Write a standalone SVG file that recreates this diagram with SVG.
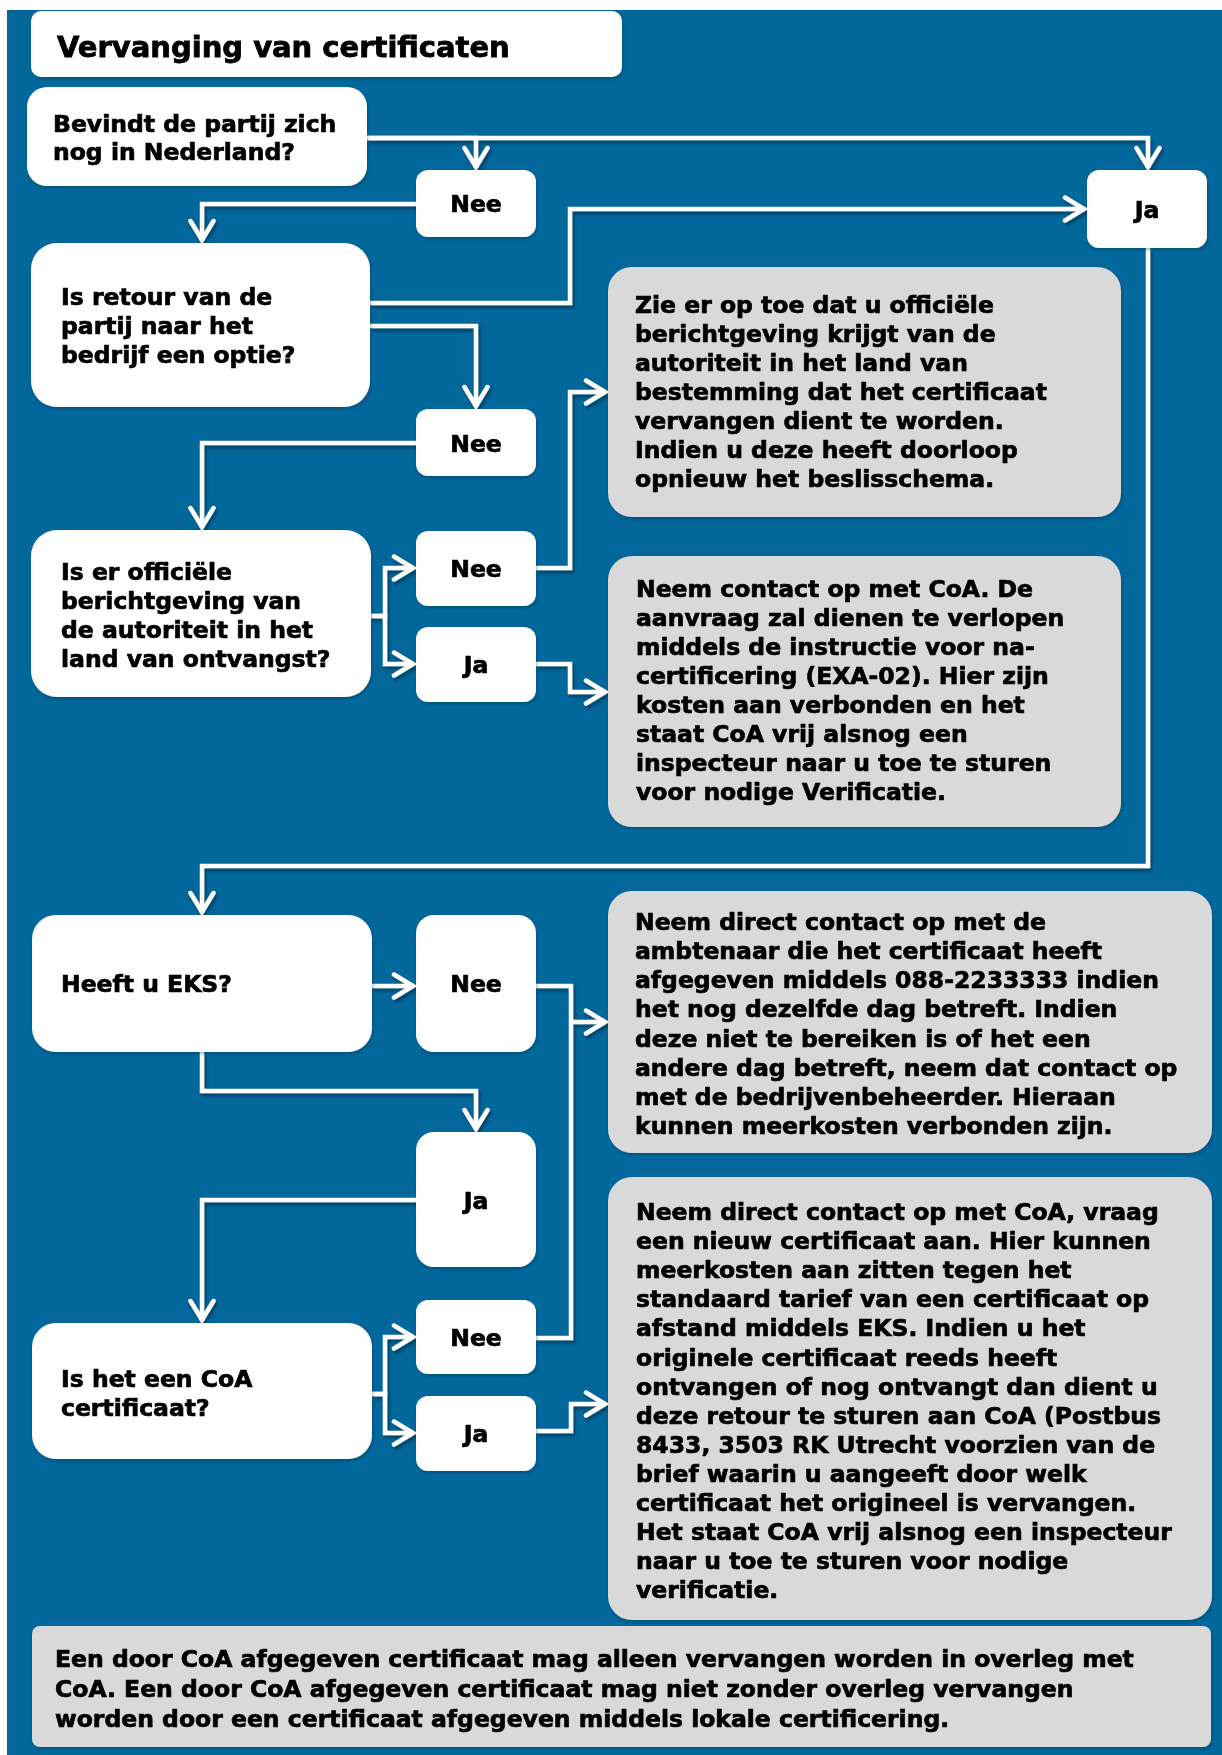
<svg xmlns="http://www.w3.org/2000/svg" width="1222" height="1755" viewBox="0 0 1222 1755">
<defs>
<style>
text{font-family:"DejaVu Sans",Verdana,"Liberation Sans",sans-serif;font-weight:bold;fill:#000;stroke:#000;stroke-width:0.7;font-size:23.5px}
.title{font-size:29px;stroke-width:0.8}
.lbl{text-anchor:middle}
.q{fill:#fff}
.info{fill:#d9d9d9}
.conn path{fill:none;stroke:#fff;stroke-width:4.5;stroke-linejoin:miter}
</style>
<filter id="sh" x="-5%" y="-5%" width="110%" height="110%">
<feDropShadow dx="2" dy="3" stdDeviation="1.5" flood-color="#002a44" flood-opacity="0.55"/>
</filter>
<filter id="bsh" x="-5%" y="-5%" width="110%" height="110%">
<feDropShadow dx="1" dy="2" stdDeviation="1.5" flood-color="#002a44" flood-opacity="0.35"/>
</filter>
<marker id="arr" viewBox="0 0 26 28" refX="23" refY="14" markerWidth="26" markerHeight="28" markerUnits="userSpaceOnUse" orient="auto">
<path d="M3,2.5 L22,14 L3,25.5" fill="none" stroke="#fff" stroke-width="4.5" stroke-linecap="round" stroke-linejoin="miter"/>
</marker>
</defs>
<rect x="0" y="0" width="1222" height="1755" fill="#fff"/>
<rect x="7" y="10" width="1215" height="1745" fill="#02679b"/>

<g id="connectors" class="conn" filter="url(#sh)">
<path d="M367,138 H476 V168" marker-end="url(#arr)"/>
<path d="M367,138 H1148 V168" marker-end="url(#arr)"/>
<path d="M416,204 H202 V241" marker-end="url(#arr)"/>
<path d="M370,303 H570 V209 H1085" marker-end="url(#arr)"/>
<path d="M370,326 H476 V407" marker-end="url(#arr)"/>
<path d="M416,443 H202 V528" marker-end="url(#arr)"/>
<path d="M370,616 H385 V568 H414" marker-end="url(#arr)"/>
<path d="M370,616 H385 V664 H414" marker-end="url(#arr)"/>
<path d="M535,568 H570 V392 H606" marker-end="url(#arr)"/>
<path d="M535,664 H570 V692 H606" marker-end="url(#arr)"/>
<path d="M1148,248 V866 H202 V913" marker-end="url(#arr)"/>
<path d="M372,986 H414" marker-end="url(#arr)"/>
<path d="M536,986 H571 V1338 H536"/>
<path d="M571,1022 H606" marker-end="url(#arr)"/>
<path d="M202,1052 V1091 H476 V1130" marker-end="url(#arr)"/>
<path d="M416,1200 H202 V1321" marker-end="url(#arr)"/>
<path d="M372,1394 H385 V1337 H414" marker-end="url(#arr)"/>
<path d="M372,1394 H385 V1433 H414" marker-end="url(#arr)"/>
<path d="M536,1431 H571 V1404 H606" marker-end="url(#arr)"/>
</g>

<g id="title" filter="url(#bsh)">
<rect class="q" x="31" y="11" width="591" height="66" rx="10"/>
<text class="title" x="57" y="57">Vervanging van certificaten</text>
</g>

<g id="q1" filter="url(#bsh)">
<rect class="q" x="27" y="87" width="340" height="99" rx="20"/>
<text x="53" y="132">Bevindt de partij zich</text>
<text x="53" y="160">nog in Nederland?</text>
</g>
<g id="nee1" filter="url(#bsh)">
<rect class="q" x="416" y="170" width="120" height="67" rx="12"/>
<text class="lbl" x="476" y="212">Nee</text>
</g>
<g id="ja1" filter="url(#bsh)">
<rect class="q" x="1087" y="170" width="120" height="78" rx="12"/>
<text class="lbl" x="1147" y="218">Ja</text>
</g>

<g id="q2" filter="url(#bsh)">
<rect class="q" x="31" y="243" width="339" height="164" rx="26"/>
<text x="61" y="305">Is retour van de</text>
<text x="61" y="334">partij naar het</text>
<text x="61" y="363">bedrijf een optie?</text>
</g>
<g id="nee2" filter="url(#bsh)">
<rect class="q" x="416" y="409" width="120" height="67" rx="12"/>
<text class="lbl" x="476" y="452">Nee</text>
</g>

<g id="info1" filter="url(#bsh)">
<rect class="info" x="608" y="267" width="513" height="250" rx="24"/>
<text x="635" y="313">Zie er op toe dat u officiële</text>
<text x="635" y="342">berichtgeving krijgt van de</text>
<text x="635" y="371">autoriteit in het land van</text>
<text x="635" y="400">bestemming dat het certificaat</text>
<text x="635" y="429">vervangen dient te worden.</text>
<text x="635" y="458">Indien u deze heeft doorloop</text>
<text x="635" y="487">opnieuw het beslisschema.</text>
</g>

<g id="q3" filter="url(#bsh)">
<rect class="q" x="31" y="530" width="340" height="167" rx="26"/>
<text x="61" y="580">Is er officiële</text>
<text x="61" y="609">berichtgeving van</text>
<text x="61" y="638">de autoriteit in het</text>
<text x="61" y="667">land van ontvangst?</text>
</g>
<g id="nee3" filter="url(#bsh)">
<rect class="q" x="416" y="531" width="120" height="75" rx="12"/>
<text class="lbl" x="476" y="577">Nee</text>
</g>
<g id="ja3" filter="url(#bsh)">
<rect class="q" x="416" y="627" width="120" height="75" rx="12"/>
<text class="lbl" x="476" y="673">Ja</text>
</g>

<g id="info2" filter="url(#bsh)">
<rect class="info" x="608" y="556" width="513" height="271" rx="24"/>
<text x="636" y="597">Neem contact op met CoA. De</text>
<text x="636" y="626">aanvraag zal dienen te verlopen</text>
<text x="636" y="655">middels de instructie voor na-</text>
<text x="636" y="684">certificering (EXA-02). Hier zijn</text>
<text x="636" y="713">kosten aan verbonden en het</text>
<text x="636" y="742">staat CoA vrij alsnog een</text>
<text x="636" y="771">inspecteur naar u toe te sturen</text>
<text x="636" y="800">voor nodige Verificatie.</text>
</g>

<g id="q4" filter="url(#bsh)">
<rect class="q" x="32" y="915" width="340" height="137" rx="24"/>
<text x="61" y="992">Heeft u EKS?</text>
</g>
<g id="nee4" filter="url(#bsh)">
<rect class="q" x="416" y="915" width="120" height="137" rx="18"/>
<text class="lbl" x="476" y="992">Nee</text>
</g>

<g id="info3" filter="url(#bsh)">
<rect class="info" x="608" y="891" width="604" height="262" rx="24"/>
<text x="635" y="930">Neem direct contact op met de</text>
<text x="635" y="959">ambtenaar die het certificaat heeft</text>
<text x="635" y="988">afgegeven middels 088-2233333 indien</text>
<text x="635" y="1017">het nog dezelfde dag betreft. Indien</text>
<text x="635" y="1047">deze niet te bereiken is of het een</text>
<text x="635" y="1076">andere dag betreft, neem dat contact op</text>
<text x="635" y="1105">met de bedrijvenbeheerder. Hieraan</text>
<text x="635" y="1134">kunnen meerkosten verbonden zijn.</text>
</g>

<g id="ja4" filter="url(#bsh)">
<rect class="q" x="416" y="1132" width="120" height="135" rx="18"/>
<text class="lbl" x="476" y="1209">Ja</text>
</g>

<g id="q5" filter="url(#bsh)">
<rect class="q" x="32" y="1323" width="340" height="136" rx="24"/>
<text x="61" y="1387">Is het een CoA</text>
<text x="61" y="1416">certificaat?</text>
</g>
<g id="nee5" filter="url(#bsh)">
<rect class="q" x="416" y="1300" width="120" height="74" rx="12"/>
<text class="lbl" x="476" y="1346">Nee</text>
</g>
<g id="ja5" filter="url(#bsh)">
<rect class="q" x="416" y="1396" width="120" height="75" rx="12"/>
<text class="lbl" x="476" y="1442">Ja</text>
</g>

<g id="info4" filter="url(#bsh)">
<rect class="info" x="608" y="1177" width="604" height="443" rx="24"/>
<text x="636" y="1220">Neem direct contact op met CoA, vraag</text>
<text x="636" y="1249">een nieuw certificaat aan. Hier kunnen</text>
<text x="636" y="1278">meerkosten aan zitten tegen het</text>
<text x="636" y="1307">standaard tarief van een certificaat op</text>
<text x="636" y="1336">afstand middels EKS. Indien u het</text>
<text x="636" y="1366">originele certificaat reeds heeft</text>
<text x="636" y="1395">ontvangen of nog ontvangt dan dient u</text>
<text x="636" y="1424">deze retour te sturen aan CoA (Postbus</text>
<text x="636" y="1453">8433, 3503 RK Utrecht voorzien van de</text>
<text x="636" y="1482">brief waarin u aangeeft door welk</text>
<text x="636" y="1511">certificaat het origineel is vervangen.</text>
<text x="636" y="1540">Het staat CoA vrij alsnog een inspecteur</text>
<text x="636" y="1569">naar u toe te sturen voor nodige</text>
<text x="636" y="1598">verificatie.</text>
</g>

<g id="note" filter="url(#bsh)">
<rect class="info" x="32" y="1626" width="1179" height="121" rx="8"/>
<text x="55" y="1667">Een door CoA afgegeven certificaat mag alleen vervangen worden in overleg met</text>
<text x="55" y="1697">CoA. Een door CoA afgegeven certificaat mag niet zonder overleg vervangen</text>
<text x="55" y="1727">worden door een certificaat afgegeven middels lokale certificering.</text>
</g>
</svg>
